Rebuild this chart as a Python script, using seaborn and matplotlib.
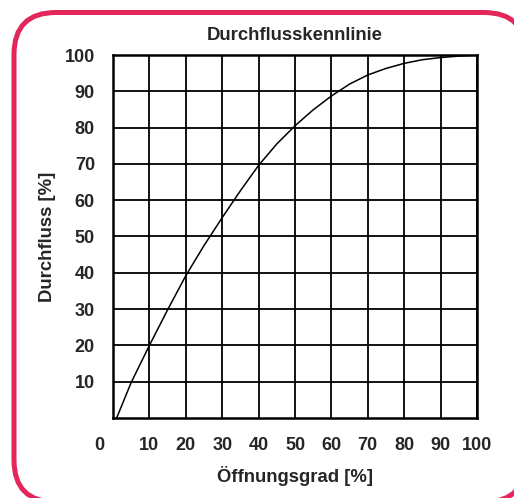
import matplotlib
matplotlib.use("Agg")
import matplotlib.pyplot as plt
import matplotlib.transforms as mtransforms
from matplotlib.patches import FancyBboxPatch
import seaborn as sns

# Kennlinie
oeffnung = [1, 5, 10, 15, 20, 25, 30, 35, 40, 45, 50, 55, 60, 65, 70, 75, 80, 85, 90, 95, 100]
durchfluss = [0, 9.8, 20, 29.8, 39.2, 47.5, 55.2, 62.6, 69.6, 75.5, 80.5, 84.9, 88.7, 92, 94.5, 96.3, 97.7, 98.7, 99.3, 99.7, 100]

x_ticks = [0, 10, 20, 30, 40, 50, 60, 70, 80, 90, 100]
y_ticks = [10, 20, 30, 40, 50, 60, 70, 80, 90, 100]

sns.set_style("white")
plt.rcParams['font.family'] = ['Liberation Sans', 'DejaVu Sans']
plt.rcParams['font.weight'] = 'bold'

W, H = 514, 498
fig = plt.figure(figsize=(W / 100, H / 100), dpi=100)
ax = fig.add_axes([113 / W, 1 - 418 / H, 364 / W, 363 / H])

sns.lineplot(x=oeffnung, y=durchfluss, color='black', linewidth=1.1, ax=ax)

ax.set_xlim(0, 100)
ax.set_ylim(0, 100)
ax.set_xticks(x_ticks)
ax.set_yticks(y_ticks)
ax.tick_params(axis='both', length=0, labelsize=13)
ax.tick_params(axis='x', pad=14)
ax.tick_params(axis='y', pad=13)
ax.grid(True, color='black', linewidth=1.3)
for s in ax.spines.values():
    s.set_color('black')
    s.set_linewidth(1.8)

# "0" etwas nach links
lbl0 = ax.get_xticklabels()[0]
lbl0.set_transform(lbl0.get_transform() + mtransforms.ScaledTranslation(-14 / 100, 0, fig.dpi_scale_trans))

ax.set_title('Durchflusskennlinie', fontsize=13.3, fontweight='bold', pad=11)
ax.set_xlabel('Öffnungsgrad [%]', fontsize=13.3, fontweight='bold', labelpad=8)
ax.set_ylabel('Durchfluss [%]', fontsize=13.3, fontweight='bold', labelpad=6)

# roter Rahmen (runde Ecken, rechts/unten angeschnitten); weiss gefuellt,
# damit Agg den Pfad nicht am Bildrand abschneidet
r = 42
rahmen = FancyBboxPatch((14 / W, (H - 502) / H), (526 - 14) / W, (502 - 12.5) / H,
                        boxstyle=f"round,pad=0,rounding_size={r / W}",
                        mutation_aspect=W / H,
                        transform=fig.transFigure, facecolor='white',
                        edgecolor='#E3275A', linewidth=3.6, zorder=-1)
fig.patches.append(rahmen)

fig.savefig('out.png', dpi=100, facecolor='white')
